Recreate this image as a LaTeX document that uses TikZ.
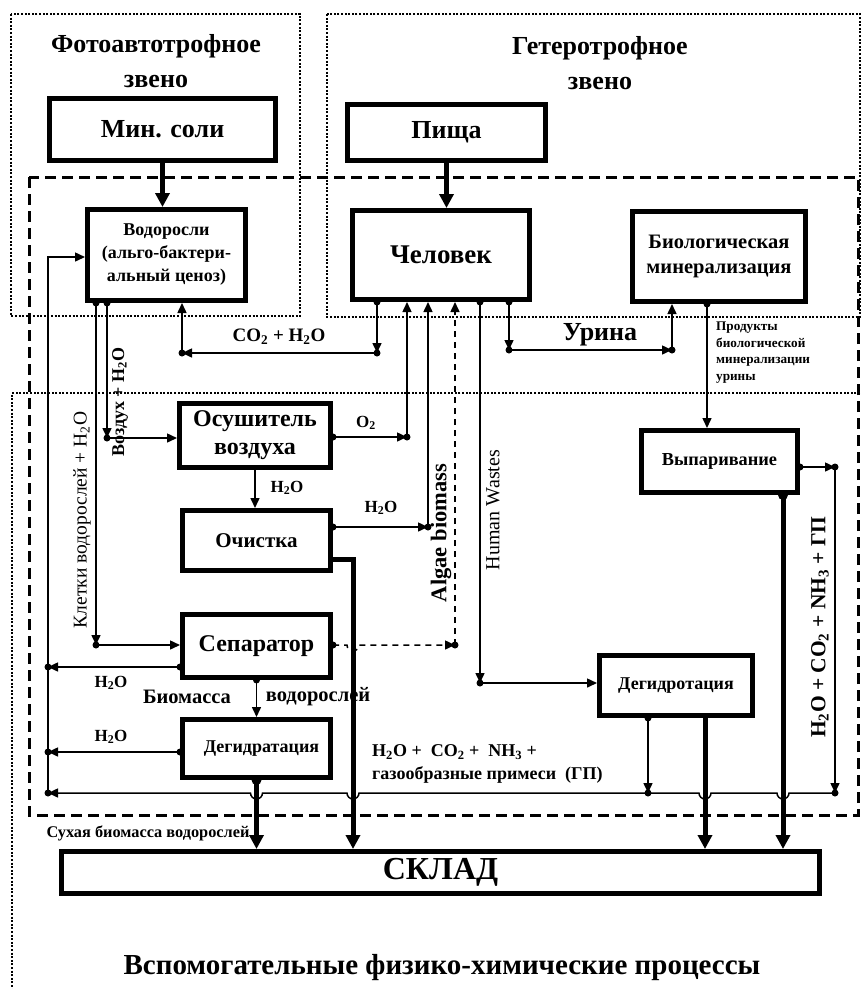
\documentclass[tikz,border=0pt]{standalone}
\usepackage{fontspec}
\setmainfont{Liberation Serif}
\usetikzlibrary{arrows.meta,calc}
\newcommand\fsz[2]{\fontsize{#1}{#2}\selectfont}
\newcommand\jdot[1]{\fill #1 circle (3.5pt);}
\newcommand\HO{H\textsubscript{2}O}
\begin{document}
\begin{tikzpicture}[x=1pt,y=-1pt,
  box/.style={draw, line width=5pt, inner sep=0pt, align=center},
  ln/.style={line width=1.5pt},
  arr/.style={ln, -{Triangle[length=10pt,width=9pt]}},
  thk/.style={line width=5pt, -{Triangle[length=14pt,width=14pt]}},
  dotz/.style={line width=2pt, dash pattern=on 2pt off 1.6pt},
  dashz/.style={line width=3pt, dash pattern=on 11pt off 6pt},
  lbl/.style={inner sep=0pt, font=\bfseries\fsz{17}{20}},
]
\useasboundingbox (0,0) rectangle (862,989);
% zones
\draw[dotz] (11,14) rectangle (300,316);
\draw[dotz] (327,14) rectangle (860,317);
\draw[dotz] (860,393) -- (12,393) -- (12,989);
\draw[dashz] (29,177) rectangle (858,815);
% titles
\node[align=center, font=\bfseries\fsz{26}{35}] (t1) at (156,61) {Фотоавтотрофное\\звено};
\node[align=center, font=\bfseries\fsz{26}{35}] (t2) at (600,63) {Гетеротрофное\\звено};
\node[font=\bfseries\fsz{29}{32}] (t3) at (442,968) {Вспомогательные физико-химические процессы};
% boxes
\node[box,minimum width=226pt,minimum height=62pt,font=\bfseries\fsz{26}{30}] (min) at (162.5,129.5) {Мин. соли};
\node[box,minimum width=198pt,minimum height=56pt,font=\bfseries\fsz{26}{30}] (pis) at (446.5,132.5) {Пища};
\node[box,minimum width=158pt,minimum height=91pt,font=\bfseries\fsz{18}{23}] (vod) at (166.5,255) {Водоросли\\(альго-бактери-\\альный ценоз)};
\node[box,minimum width=177pt,minimum height=89pt,font=\bfseries\fsz{27}{30}] (chel) at (441,255) {Человек};
\node[box,minimum width=173pt,minimum height=90pt,font=\bfseries\fsz{20.5}{25}] (bio) at (719,256.5) {Биологическая\\минерализация};
\node[box,minimum width=151pt,minimum height=64pt,font=\bfseries\fsz{24}{28}] (osu) at (255,435.5) {Осушитель\\воздуха};
\node[box,minimum width=148pt,minimum height=60pt,font=\bfseries\fsz{21}{24}] (och) at (256.5,540.5) {Очистка};
\node[box,minimum width=148pt,minimum height=63pt,font=\bfseries\fsz{24}{28}] (sep) at (256.5,646) {Сепаратор};
\node[box,minimum width=148pt,minimum height=58pt,font=\bfseries\fsz{18}{22}] (deg) at (256.5,748.5) {\hspace*{10pt}Дегидратация};
\node[box,minimum width=156pt,minimum height=62pt,font=\bfseries\fsz{18.3}{20}] (vyp) at (719.5,461.5) {Выпаривание};
\node[box,minimum width=153pt,minimum height=60pt,font=\bfseries\fsz{18}{22}] (degr) at (676,685.5) {Дегидротация};
\node[box,minimum width=758pt,minimum height=42pt,font=\bfseries\fsz{32}{36}] (sklad) at (440.5,872.5) {СКЛАД};
% junctions
\coordinate (kl) at (96,645);
\coordinate (vz) at (107,438);
\coordinate (ca) at (182,353);
\coordinate (cb) at (377,353);
\coordinate (o2) at (407,437);
\coordinate (hc) at (428,527);
\coordinate (al) at (455,645);
\coordinate (hw) at (480,683);
\coordinate (ua) at (509,350);
\coordinate (ub) at (672,350);
\coordinate (pr) at (707,380);
\coordinate (vr) at (835,467);
\coordinate (ga) at (48,793);
\coordinate (gb) at (648,793);
\coordinate (gc) at (835,793);
\coordinate (rt) at (48,257);
\coordinate (sa) at (48,667);
\coordinate (da) at (48,752);
\coordinate (ot) at (353,559);
\coordinate (dt) at (705,718);
\coordinate (vt) at (783,495);
% thin connectors
\draw[arr] (vod.south -| kl) -- (kl);
\draw[arr] (kl) -- (kl -| sep.west);
\draw[arr] (vod.south -| vz) -- (vz);
\draw[arr] (vz) -- (vz -| osu.west);
\draw[arr] (chel.south -| cb) -- (cb);
\draw[arr] (cb) -- (ca);
\draw[arr] (ca) -- (ca |- vod.south);
\draw[arr] (o2 -| osu.east) -- (o2);
\draw[arr] (o2) -- (o2 |- chel.south);
\draw[arr] (hc -| och.east) -- (hc);
\draw[arr] (hc) -- (hc |- chel.south);
\draw[arr, dash pattern=on 6pt off 5pt] (al -| sep.east) -- ($(ot |- al)+(-6,0)$) arc[start angle=180, end angle=360, radius=6pt] -- (al);
\draw[arr, dash pattern=on 6pt off 5pt] (al) -- (al |- chel.south);
\draw[arr] (chel.south -| hw) -- (hw);
\draw[arr] (hw) -- (hw -| degr.west);
\draw[arr] (chel.south -| ua) -- (ua);
\draw[arr] (ua) -- (ub);
\draw[arr] (ub) -- (ub |- bio.south);
\draw[arr] (bio.south -| pr) -- (pr |- vyp.north);
\draw[arr] (vr -| vyp.east) -- (vr);
\draw[arr] (vr) -- (gc);
\draw[arr] (degr.south -| gb) -- (gb);
\draw[arr] (gc) -- ($(vt |- gc)+(6,0)$) arc[start angle=0, end angle=-180, radius=6pt]
  -- ($(dt |- gc)+(6,0)$) arc[start angle=0, end angle=-180, radius=6pt]
  -- ($(ot |- gc)+(6,0)$) arc[start angle=0, end angle=-180, radius=6pt]
  -- ($(deg.south |- gc)+(6,0)$) arc[start angle=0, end angle=-180, radius=6pt]
  -- (ga);
\draw[arr] (ga) -- (rt) -- (rt -| vod.west);
\draw[arr] (sa -| sep.west) -- (sa);
\draw[arr] (da -| deg.west) -- (da);
\draw[arr] (osu.south) -- (osu.south |- och.north);
\draw[arr] (sep.south) -- (sep.south |- deg.north);
% thick connectors
\draw[thk] (min.south) -- (min.south |- vod.north);
\draw[thk] (pis.south) -- (pis.south |- chel.north);
\draw[thk] (deg.south) -- (deg.south |- sklad.north);
\draw[thk] (ot -| och.east) -- (ot) -- (ot |- sklad.north);
\draw[thk] (degr.south -| dt) -- (dt |- sklad.north);
\draw[thk] (vyp.south -| vt) -- (vt |- sklad.north);
% dots
\jdot{(vod.south -| kl)} \jdot{(kl)} \jdot{(vod.south -| vz)} \jdot{(vz)}
\jdot{(chel.south -| cb)} \jdot{(cb)} \jdot{(ca)}
\jdot{(o2 -| osu.east)} \jdot{(o2)} \jdot{(hc -| och.east)} \jdot{(hc)}
\jdot{(al -| sep.east)} \jdot{(al)} \jdot{(chel.south -| hw)} \jdot{(hw)}
\jdot{(chel.south -| ua)} \jdot{(ua)} \jdot{(ub)} \jdot{(bio.south -| pr)}
\jdot{(vr -| vyp.east)} \jdot{(vr)} \jdot{(degr.south -| gb)} \jdot{(gb)} \jdot{(gc)}
\jdot{(ga)} \jdot{(sa)} \jdot{(da)} \jdot{(sa -| sep.west)} \jdot{(da -| deg.west)}
\jdot{(sep.south)}
\fill (deg.south) circle (5pt);
\fill (vyp.south -| vt) circle (5pt);
% labels
\node[lbl, font=\bfseries\fsz{19}{22}] (lco) at (279,337) {CO\textsubscript{2} + \HO};
\node[lbl] (lo2) at (366,423) {O\textsubscript{2}};
\node[lbl] (lh1) at (287,488) {\HO};
\node[lbl] (lh2) at (381,508) {\HO};
\node[lbl, font=\bfseries\fsz{26}{30}] (lur) at (600,335) {Урина};
\node[lbl, anchor=north west, align=left, font=\bfseries\fsz{13.2}{16.5}] (lpr) at (716,322) {Продукты\\биологической\\минерализации\\урины};
\node[lbl] (lh3) at (111,683) {\HO};
\node[lbl] (lh4) at (111,737) {\HO};
\node[lbl, font=\bfseries\fsz{20.5}{22}] (lbm) at (187,697) {Биомасса};
\node[lbl, font=\bfseries\fsz{20.5}{22}] (lvd) at (318,697) {водорослей};
\node[lbl, anchor=west, font=\bfseries\fsz{18}{20}] (lg1) at (372,752) {\HO\ +\ \ CO\textsubscript{2} +\ \ NH\textsubscript{3} +};
\node[lbl, anchor=west, font=\bfseries\fsz{18}{20}] (lg2) at (372,775) {газообразные примеси\ \ (ГП)};
\node[lbl, font=\bfseries\fsz{16.3}{18}] (lsb) at (148,833) {Сухая биомасса водорослей};
\node[lbl, rotate=90, font=\fsz{19.5}{22}] (lkl) at (82,520) {Клетки водорослей + \HO};
\node[lbl, rotate=90, font=\bfseries\fsz{18}{22}] (lvz) at (120,402) {Воздух + \HO};
\node[lbl, rotate=90, font=\bfseries\fsz{22.5}{24}] (lal) at (441,533) {Algae biomass};
\node[lbl, rotate=90, font=\fsz{20}{22}] (lhw) at (493,510) {Human Wastes};
\node[lbl, rotate=90, font=\bfseries\fsz{21.5}{24}] (lgv) at (820,627) {\HO\ + CO\textsubscript{2} + NH\textsubscript{3} + ГП};
\end{tikzpicture}
\end{document}
